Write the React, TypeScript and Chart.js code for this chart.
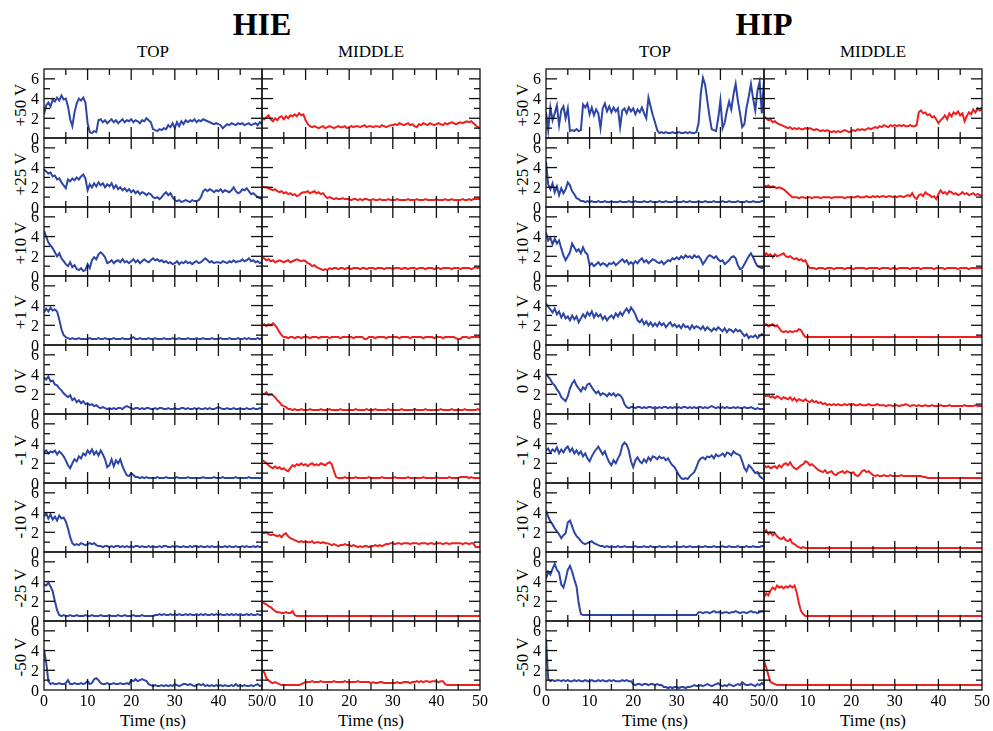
import React, { useEffect, useRef } from "react";
import { Chart, registerables } from "chart.js";
Chart.register(...registerables);

// ---------- categories / ticks ----------
const groups = ["HIE", "HIP"];
const columns = ["TOP", "MIDDLE"];
const voltages = ["+50 V", "+25 V", "+10 V", "+1 V", "0 V", "-1 V", "-10 V", "-25 V", "-50 V"];
const timeTicks = [0, 10, 20, 30, 40, 50];
const timeMinor = [5, 15, 25, 35, 45];
const yLabelTicks = [0, 2, 4, 6];
const yMajor = [2, 4, 6];
const yMinor = [1, 3, 5];
const T_MAX = 50;
const Y_MAX = 7;

// ---------- series (0..50 ns, every 0.5 ns) ----------
// HIE TOP
const hieTopP50 = [
2.4,3.3,3.6,3.2,3.9,3.7,4.1,3.8,4.3,3.9,
4.0,3.2,1.9,1.2,2.6,3.5,4.0,3.8,4.1,3.6,
1.5,0.6,0.5,0.7,0.6,1.8,1.9,1.6,1.8,1.5,
1.7,1.9,1.6,1.8,1.5,1.7,1.9,1.6,1.8,1.7,
1.9,1.6,1.8,1.7,1.5,1.8,1.7,2.0,1.8,1.6,
0.9,0.8,0.7,0.9,0.8,1.0,0.9,1.3,1.1,1.5,
1.0,1.6,1.2,1.7,1.4,1.8,1.6,1.8,1.7,1.9,
1.6,1.8,1.7,1.9,1.8,1.7,1.6,1.5,1.4,1.5,
1.4,1.3,1.0,1.2,1.4,1.3,1.5,1.4,1.3,1.5,
1.4,1.5,1.3,1.4,1.5,1.3,1.4,1.5,1.3,1.6,
1.4];
const hieTopP25 = [
3.8,3.6,3.4,3.5,3.1,3.2,2.8,2.9,2.5,2.2,
1.9,2.8,2.6,2.9,2.7,3.0,2.8,3.1,3.3,2.9,
1.7,2.3,2.0,2.4,2.1,2.5,2.2,2.4,2.0,2.3,
2.1,2.4,1.9,2.2,1.8,2.0,1.7,1.9,1.6,1.8,
1.5,1.7,1.4,1.6,1.3,1.5,1.4,1.2,1.4,1.3,
1.0,0.9,1.0,0.8,1.0,1.3,1.5,1.2,1.4,1.0,
0.7,0.6,0.7,0.5,0.6,0.7,0.6,0.5,0.7,0.6,
0.6,0.7,1.0,1.6,1.8,1.6,1.8,1.7,1.5,1.7,
1.6,1.8,1.5,1.7,1.6,1.5,1.7,2.0,1.6,1.4,
1.5,1.8,1.7,1.9,1.6,1.3,1.4,1.2,1.0,0.9,
0.8];
const hieTopP10 = [
4.6,4.0,3.4,3.1,2.8,2.4,2.0,2.3,1.8,1.5,
1.2,1.0,1.4,0.9,1.1,0.7,0.6,0.8,0.5,0.6,
1.2,0.8,1.6,1.9,1.7,2.2,2.4,2.2,1.9,1.3,
1.4,1.6,1.3,1.5,1.6,1.4,1.7,1.4,1.5,1.3,
1.5,1.7,1.4,1.6,1.3,1.5,1.7,1.5,1.4,1.6,
1.8,1.6,1.7,1.5,1.6,1.4,1.5,1.3,1.4,1.2,
1.3,1.5,1.2,1.4,1.3,1.5,1.3,1.4,1.2,1.4,
1.5,1.3,1.4,1.6,1.8,1.6,1.4,1.5,1.3,1.4,
1.4,1.3,1.5,1.4,1.3,1.5,1.4,1.6,1.4,1.5,
1.5,1.7,1.5,1.6,1.8,1.5,1.6,1.4,1.5,1.3,
1.4];
const hieTopP1 = [
3.3,3.7,3.4,3.8,3.5,3.6,3.4,2.6,1.6,1.0,
0.8,0.7,0.6,0.7,0.6,0.6,0.7,0.6,0.6,0.6,
0.6,0.7,0.6,0.6,0.6,0.7,0.6,0.6,0.7,0.6,
0.6,0.6,0.7,0.6,0.6,0.6,0.7,0.6,0.6,0.6,
0.7,0.8,0.6,0.6,0.7,0.6,0.6,0.6,0.7,0.6,
0.6,0.7,0.6,0.6,0.6,0.7,0.6,0.6,0.6,0.7,
0.6,0.6,0.7,0.6,0.6,0.6,0.7,0.6,0.6,0.6,
0.7,0.6,0.6,0.7,0.6,0.6,0.6,0.7,0.6,0.6,
0.6,0.7,0.6,0.6,0.6,0.7,0.6,0.6,0.6,0.7,
0.6,0.6,0.7,0.6,0.7,0.6,0.6,0.6,0.7,0.6,
0.7];
const hieTop0 = [
3.7,3.5,3.8,3.3,3.4,3.0,2.9,2.6,2.4,2.1,
1.9,1.7,1.9,1.4,1.6,1.2,1.4,1.1,1.3,1.0,
1.1,0.9,1.0,0.8,0.9,0.7,0.6,0.7,0.6,0.5,
0.6,0.5,0.6,0.5,0.6,0.6,0.5,0.7,0.8,0.7,
0.6,0.5,0.6,0.6,0.5,0.6,0.5,0.6,0.6,0.5,
0.5,0.6,0.5,0.6,0.6,0.5,0.5,0.6,0.5,0.5,
0.6,0.5,0.5,0.6,0.6,0.5,0.6,0.5,0.5,0.6,
0.5,0.6,0.5,0.5,0.6,0.5,0.6,0.5,0.5,0.6,
0.7,0.6,0.5,0.5,0.6,0.5,0.5,0.6,0.5,0.5,
0.6,0.5,0.5,0.6,0.5,0.5,0.6,0.5,0.5,0.6,
0.5];
const hieTopM1 = [
3.1,3.3,3.0,3.2,3.1,3.3,2.9,3.2,3.0,2.7,
2.3,1.8,1.5,2.0,2.4,2.2,2.7,2.5,3.0,2.8,
3.3,3.0,3.4,2.9,3.2,2.8,3.3,2.9,2.4,1.6,
1.8,2.4,1.7,2.3,2.0,2.4,1.7,1.2,0.8,0.7,
1.0,0.8,0.6,0.6,0.5,0.6,0.5,0.6,0.5,0.5,
0.5,0.5,0.6,0.5,0.5,0.5,0.6,0.5,0.5,0.5,
0.5,0.6,0.5,0.5,0.5,0.5,0.6,0.5,0.5,0.5,
0.5,0.5,0.5,0.6,0.5,0.5,0.5,0.5,0.6,0.5,
0.5,0.5,0.6,0.5,0.5,0.5,0.5,0.5,0.6,0.5,
0.5,0.5,0.5,0.5,0.6,0.5,0.5,0.5,0.5,0.5,
0.5];
const hieTopM10 = [
3.6,3.9,3.4,3.8,3.3,3.6,3.2,3.7,3.4,3.5,
3.1,2.4,1.5,0.9,0.7,0.8,0.7,0.9,0.8,0.7,
0.8,0.9,0.8,0.9,0.7,0.6,0.6,0.5,0.6,0.6,
0.5,0.6,0.5,0.6,0.6,0.5,0.6,0.5,0.6,0.5,
0.6,0.5,0.6,0.6,0.5,0.6,0.5,0.5,0.6,0.5,
0.6,0.5,0.5,0.6,0.5,0.6,0.6,0.5,0.5,0.6,
0.5,0.6,0.5,0.5,0.6,0.5,0.5,0.6,0.5,0.6,
0.6,0.5,0.6,0.5,0.5,0.6,0.5,0.6,0.5,0.5,
0.6,0.5,0.5,0.6,0.5,0.6,0.5,0.5,0.6,0.5,
0.5,0.6,0.5,0.6,0.5,0.5,0.6,0.5,0.6,0.5,
0.6];
const hieTopM25 = [
3.7,3.6,3.9,3.5,3.0,2.0,1.1,0.6,0.5,0.6,
0.5,0.5,0.6,0.5,0.5,0.6,0.5,0.5,0.5,0.6,
0.5,0.5,0.6,0.5,0.5,0.5,0.6,0.5,0.5,0.5,
0.6,0.5,0.5,0.5,0.6,0.5,0.5,0.6,0.5,0.5,
0.5,0.6,0.5,0.5,0.5,0.6,0.5,0.5,0.5,0.5,
0.5,0.6,0.6,0.7,0.6,0.7,0.6,0.6,0.7,0.6,
0.7,0.6,0.7,0.6,0.6,0.7,0.6,0.7,0.6,0.6,
0.7,0.6,0.7,0.6,0.7,0.6,0.6,0.7,0.6,0.7,
0.6,0.7,0.6,0.6,0.7,0.6,0.7,0.6,0.7,0.6,
0.7,0.6,0.6,0.7,0.6,0.7,0.6,0.6,0.7,0.6,
0.6];
const hieTopM50 = [
4.1,2.8,0.9,0.6,0.7,0.6,0.6,0.7,0.6,0.6,
0.7,1.0,0.6,0.6,0.7,0.6,0.6,0.7,0.6,0.7,
0.9,0.6,0.7,1.1,1.2,1.0,0.7,0.6,0.6,0.7,
0.6,0.6,0.7,0.6,0.6,0.7,0.6,0.6,0.7,0.6,
1.0,0.9,1.1,0.9,1.0,1.1,1.0,0.9,0.6,0.5,
0.4,0.5,0.4,0.4,0.5,0.4,0.5,0.4,0.5,0.4,
0.6,0.5,0.4,0.5,0.6,0.6,0.5,0.6,0.5,0.4,
0.5,0.6,0.5,0.6,0.4,0.5,0.4,0.5,0.4,0.5,
0.4,0.5,0.4,0.5,0.4,0.4,0.5,0.4,0.6,0.4,
0.5,0.4,0.5,0.4,0.4,0.5,0.4,0.5,0.6,0.4,
0.5];

// HIE MIDDLE
const hieMidP50 = [
2.0,1.9,2.1,2.3,1.9,1.7,2.0,1.8,2.1,2.2,
1.9,2.2,2.0,2.3,2.2,2.4,2.2,2.5,2.3,2.4,
1.8,1.4,1.2,1.1,1.2,1.1,1.0,1.1,1.2,1.0,
1.1,1.2,1.1,1.0,1.1,1.2,1.1,1.1,1.2,1.0,
1.1,1.2,1.1,1.2,1.2,1.1,1.2,1.3,1.1,1.2,
1.2,1.1,1.2,1.2,1.1,1.3,1.2,1.1,1.2,1.3,
1.3,1.4,1.3,1.5,1.4,1.3,1.4,1.5,1.3,1.4,
1.2,1.1,1.4,1.3,1.5,1.4,1.3,1.5,1.4,1.3,
1.4,1.5,1.4,1.3,1.5,1.4,1.5,1.6,1.5,1.4,
1.5,1.6,1.5,1.6,1.7,1.6,1.7,1.5,1.3,1.1,
1.0];
const hieMidP25 = [
2.1,2.0,2.0,1.9,1.8,1.7,1.8,1.6,1.5,1.6,
1.4,1.5,1.3,1.4,1.2,1.3,1.1,1.2,1.4,1.5,
1.5,1.6,1.4,1.5,1.6,1.4,1.5,1.3,1.4,1.1,
0.9,1.0,0.9,0.8,0.9,0.8,0.8,0.9,0.8,0.8,
0.8,0.7,0.8,0.8,0.7,0.8,0.7,0.8,0.8,0.7,
0.7,0.8,0.7,0.7,0.8,0.7,0.7,0.7,0.8,0.7,
0.7,0.7,0.8,0.7,0.7,0.7,0.7,0.8,0.7,0.7,
0.7,0.8,0.7,0.7,0.7,0.8,0.7,0.7,0.7,0.7,
0.8,0.7,0.7,0.7,0.8,0.7,0.7,0.8,0.7,0.7,
0.7,0.7,0.8,0.7,0.7,0.8,0.7,0.8,0.8,0.8,
0.8];
const hieMidP10 = [
1.9,1.8,1.6,1.7,1.5,1.6,1.4,1.5,1.6,1.5,
1.4,1.5,1.6,1.4,1.5,1.6,1.7,1.6,1.5,1.6,
1.5,1.3,1.2,1.0,1.1,0.9,0.8,0.7,0.6,0.7,
0.6,0.8,0.7,0.8,0.8,0.7,0.8,0.8,0.7,0.8,
0.8,0.7,0.8,0.8,0.8,0.7,0.8,0.8,0.7,0.8,
0.8,0.8,0.7,0.8,0.8,0.8,0.7,0.8,0.8,0.8,
0.7,0.8,0.8,0.8,0.7,0.8,0.8,0.7,0.8,0.8,
0.8,0.7,0.8,0.8,0.8,0.7,0.8,0.8,0.8,0.7,
0.8,0.8,0.7,0.8,0.8,0.8,0.8,0.7,0.8,0.8,
0.8,0.7,0.8,0.8,0.8,0.8,0.7,0.8,0.9,0.8,
0.9];
const hieMidP1 = [
2.0,2.1,1.9,2.1,2.0,2.2,2.0,1.7,1.3,1.0,
0.8,0.8,0.7,0.8,0.8,0.7,0.8,0.8,0.7,0.8,
0.8,0.8,0.7,0.8,0.8,0.8,0.7,0.8,0.8,0.8,
0.8,0.7,0.8,0.8,0.8,0.8,0.7,0.8,0.8,0.8,
0.8,0.8,0.7,0.8,0.8,0.8,0.8,0.6,0.6,0.8,
0.8,0.8,0.7,0.8,0.8,0.8,0.8,0.7,0.8,0.8,
0.8,0.8,0.8,0.7,0.8,0.8,0.8,0.8,0.7,0.8,
0.8,0.8,0.8,0.8,0.7,0.8,0.8,0.8,0.8,0.7,
0.8,0.8,0.8,0.7,0.8,0.8,0.8,0.8,0.8,0.7,
0.6,0.6,0.8,0.8,0.8,0.7,0.8,0.8,0.8,0.8,
0.8];
const hieMid0 = [
2.1,2.0,2.2,1.9,2.0,1.9,1.7,1.4,1.2,0.9,
0.8,0.7,0.5,0.5,0.4,0.5,0.4,0.4,0.5,0.4,
0.4,0.4,0.5,0.4,0.4,0.4,0.4,0.5,0.4,0.4,
0.4,0.5,0.4,0.4,0.4,0.4,0.5,0.4,0.4,0.4,
0.4,0.4,0.4,0.5,0.4,0.4,0.4,0.4,0.5,0.4,
0.4,0.4,0.5,0.4,0.4,0.4,0.4,0.4,0.5,0.4,
0.4,0.4,0.4,0.4,0.5,0.4,0.4,0.4,0.4,0.4,
0.5,0.4,0.4,0.4,0.4,0.5,0.4,0.4,0.4,0.4,
0.4,0.4,0.5,0.4,0.4,0.4,0.4,0.5,0.4,0.4,
0.4,0.4,0.4,0.5,0.4,0.4,0.4,0.4,0.4,0.5,
0.4];
const hieMidM1 = [
2.3,2.2,2.0,1.8,1.6,1.5,1.7,1.5,1.6,1.4,
1.5,1.3,1.2,1.5,1.8,1.7,1.9,1.8,2.0,1.8,
1.9,1.7,1.9,2.0,1.8,1.9,1.8,2.0,1.9,1.8,
2.0,2.1,1.9,1.2,0.6,0.5,0.5,0.5,0.6,0.5,
0.5,0.5,0.5,0.6,0.5,0.5,0.5,0.5,0.5,0.6,
0.5,0.5,0.5,0.5,0.5,0.6,0.5,0.5,0.5,0.5,
0.5,0.6,0.5,0.5,0.5,0.5,0.5,0.6,0.5,0.5,
0.5,0.5,0.5,0.5,0.6,0.5,0.5,0.5,0.5,0.5,
0.6,0.5,0.5,0.5,0.5,0.5,0.6,0.5,0.5,0.5,
0.5,0.6,0.6,0.6,0.6,0.5,0.6,0.5,0.5,0.5,
0.5];
const hieMidM10 = [
2.0,1.9,2.0,1.8,1.7,1.8,1.7,1.6,1.7,1.5,
1.8,1.9,1.6,1.4,1.3,1.2,1.1,1.0,1.1,1.0,
1.1,1.0,1.0,1.1,0.9,1.0,1.0,0.9,1.0,0.9,
0.9,0.8,0.7,0.8,0.7,0.6,0.7,0.7,0.8,0.7,
0.7,0.6,0.7,0.6,0.5,0.6,0.5,0.6,0.6,0.5,
0.6,0.6,0.7,0.6,0.7,0.6,0.7,0.8,0.8,0.9,
0.9,0.8,0.9,0.9,0.8,0.9,0.9,0.9,0.8,0.9,
0.9,0.9,0.8,0.9,0.9,0.9,0.8,0.9,0.9,0.8,
0.9,0.9,0.9,0.8,0.9,0.9,0.8,0.9,0.9,0.9,
0.9,0.9,0.8,0.9,0.9,0.8,0.9,0.9,0.5,0.5,
0.5];
const hieMidM25 = [
1.9,1.8,1.7,1.5,1.4,1.2,1.0,0.9,0.9,0.8,
0.8,0.9,0.8,0.8,1.0,0.6,0.5,0.5,0.5,0.5,
0.5,0.5,0.5,0.5,0.5,0.5,0.5,0.5,0.5,0.5,
0.5,0.5,0.5,0.5,0.5,0.5,0.5,0.5,0.5,0.5,
0.5,0.5,0.5,0.5,0.5,0.5,0.5,0.5,0.5,0.5,
0.5,0.5,0.5,0.5,0.5,0.5,0.5,0.5,0.5,0.5,
0.5,0.5,0.5,0.5,0.5,0.5,0.5,0.5,0.5,0.5,
0.5,0.5,0.5,0.5,0.5,0.5,0.5,0.5,0.5,0.5,
0.5,0.5,0.5,0.5,0.5,0.5,0.5,0.5,0.5,0.5,
0.5,0.5,0.5,0.5,0.5,0.5,0.5,0.5,0.5,0.5,
0.5];
const hieMidM50 = [
2.0,1.8,1.2,1.0,0.8,0.7,0.8,0.7,0.6,0.5,
0.5,0.5,0.5,0.5,0.5,0.5,0.5,0.5,0.6,0.7,
0.8,0.8,0.8,0.9,0.8,0.8,0.8,0.9,0.8,0.8,
0.8,0.8,0.8,0.9,0.8,0.8,0.8,0.8,0.9,0.8,
0.8,0.8,0.8,0.8,0.9,0.8,0.8,0.8,0.8,0.8,
0.7,0.8,0.7,0.7,0.8,0.8,0.7,0.7,0.7,0.7,
0.7,0.7,0.8,0.7,0.7,0.8,0.8,0.8,0.7,0.8,
0.8,0.9,0.8,0.9,0.8,0.9,0.9,0.8,0.9,0.9,
0.9,0.8,0.9,0.9,0.6,0.5,0.5,0.5,0.5,0.5,
0.5,0.5,0.5,0.5,0.5,0.5,0.5,0.5,0.5,0.5,
0.5];

// HIP TOP
const hipTopP50 = [
2.6,0.8,3.1,1.8,2.5,3.3,1.3,2.8,3.2,2.0,
3.0,0.7,0.8,0.7,0.9,0.7,0.8,3.4,3.1,3.5,
2.4,3.1,2.3,2.9,2.5,1.0,3.0,3.5,2.7,3.2,
2.6,3.1,2.7,3.0,1.1,2.8,3.0,2.5,3.1,2.7,
3.0,2.4,2.9,2.6,3.1,2.5,2.0,4.1,3.2,2.3,
1.6,0.8,0.5,0.6,0.5,0.6,0.5,0.5,0.6,0.5,
0.5,0.6,0.5,0.5,0.6,0.5,0.6,0.5,0.5,0.6,
1.5,4.5,6.1,5.4,3.8,2.2,0.9,0.8,0.7,2.0,
3.8,1.0,1.6,2.8,3.7,2.9,4.4,5.5,3.8,2.5,
1.1,1.4,3.1,4.2,5.5,4.0,2.8,4.8,5.7,2.5,
5.9];
const hipTopP25 = [
4.6,2.3,1.8,2.4,1.5,2.1,1.2,1.9,1.4,1.8,
2.5,2.2,1.6,1.3,0.9,0.8,0.6,0.6,0.5,0.6,
0.5,0.6,0.5,0.5,0.6,0.5,0.5,0.6,0.5,0.5,
0.6,0.5,0.5,0.5,0.6,0.5,0.5,0.5,0.6,0.5,
0.5,0.6,0.5,0.5,0.5,0.6,0.5,0.5,0.6,0.5,
0.5,0.5,0.6,0.5,0.5,0.6,0.5,0.5,0.5,0.6,
0.5,0.5,0.5,0.6,0.5,0.5,0.6,0.5,0.5,0.5,
0.6,0.5,0.5,0.6,0.5,0.5,0.5,0.6,0.5,0.5,
0.5,0.6,0.5,0.5,0.6,0.5,0.5,0.5,0.6,0.5,
0.5,0.5,0.6,0.5,0.5,0.6,0.5,0.5,0.5,0.6,
0.6];
const hipTopP10 = [
4.4,3.6,3.9,3.2,3.8,3.3,3.6,2.8,2.1,1.6,
2.0,2.4,3.3,2.9,2.5,2.7,2.3,2.9,2.4,2.2,
1.1,1.3,1.0,1.2,1.4,1.1,1.3,1.2,1.0,1.3,
1.2,1.4,1.1,1.3,1.5,1.7,1.4,1.6,1.2,1.4,
1.2,1.5,1.3,1.6,1.8,1.4,1.6,1.3,1.5,1.7,
1.6,1.4,1.3,1.5,1.2,1.4,1.6,1.5,1.8,1.7,
1.9,1.7,2.0,1.8,2.1,1.9,2.0,1.8,2.1,1.9,
2.0,1.7,1.2,1.5,1.9,2.1,2.0,1.8,2.0,1.7,
1.5,1.6,1.2,1.4,1.6,1.9,2.0,1.8,1.1,0.7,
0.8,1.2,1.6,2.0,2.3,1.9,1.4,1.0,0.9,0.8,
0.9];
const hipTopP1 = [
4.2,3.9,3.6,3.3,3.7,3.1,3.4,2.8,3.2,2.7,
2.9,2.5,3.0,2.6,2.9,2.3,2.7,3.1,2.8,3.3,
3.0,3.4,2.8,3.2,2.9,3.1,2.6,2.9,2.5,2.8,
3.0,2.7,3.2,2.9,3.3,3.0,3.4,3.7,3.3,3.8,
3.5,3.1,2.5,2.3,2.6,2.1,2.4,2.0,2.3,1.9,
2.2,1.9,2.3,2.0,2.2,1.8,2.1,2.3,1.9,2.1,
1.8,2.0,1.7,2.1,1.8,1.9,1.6,2.0,1.7,1.9,
1.8,1.6,1.9,1.5,1.8,1.6,1.4,1.7,1.5,1.8,
1.6,1.4,1.7,1.3,1.6,1.5,1.3,1.6,1.4,1.5,
1.2,0.9,1.1,0.7,0.9,0.8,1.0,0.7,0.9,1.1,
0.9];
const hipTop0 = [
4.1,3.8,3.5,3.1,2.9,2.5,2.2,1.7,1.5,1.3,
1.8,2.6,3.1,3.4,2.9,2.6,2.3,2.7,2.5,3.0,
3.1,2.7,2.4,2.1,2.3,1.9,2.1,2.0,1.8,2.1,
1.9,2.1,1.8,2.0,1.9,1.6,1.0,0.7,0.6,0.7,
0.7,0.6,0.7,0.7,0.6,0.7,0.6,0.7,0.7,0.6,
0.7,0.6,0.7,0.6,0.7,0.7,0.6,0.7,0.6,0.7,
0.6,0.7,0.6,0.7,0.7,0.6,0.7,0.6,0.7,0.6,
0.7,0.7,0.6,0.7,0.6,0.7,0.8,0.7,0.6,0.7,
0.6,0.7,0.6,0.7,0.6,0.6,0.7,0.6,0.7,0.6,
0.6,0.7,0.6,0.6,0.7,0.6,0.5,0.6,0.5,0.5,
0.5];
const hipTopM1 = [
3.3,3.5,3.1,3.4,3.2,3.6,3.0,3.4,3.1,3.5,
3.7,3.2,3.5,3.0,3.3,2.9,3.2,2.7,3.0,2.5,
2.2,2.7,3.1,3.4,3.7,3.3,2.9,3.2,2.6,2.1,
1.8,2.3,2.0,2.5,2.9,3.8,4.1,3.9,3.3,2.2,
1.6,2.3,2.6,2.2,2.0,2.4,2.1,2.6,2.3,2.7,
2.6,2.4,2.7,2.5,2.6,2.3,2.5,2.1,1.8,1.6,
1.2,0.8,0.5,0.4,0.5,0.4,0.7,0.9,1.1,1.6,
2.2,2.5,2.6,2.4,2.7,2.6,2.8,2.5,2.9,2.7,
2.8,3.0,2.7,3.1,3.0,2.8,3.2,3.0,2.9,2.8,
2.2,1.5,1.2,1.8,1.6,1.3,1.0,1.1,0.7,0.5,
0.4];
const hipTopM10 = [
4.2,3.6,3.1,2.8,2.4,2.1,1.8,1.4,1.7,1.9,
3.0,3.2,2.6,2.0,1.6,1.4,1.1,0.9,0.8,0.9,
1.0,1.1,0.9,0.8,0.7,0.6,0.6,0.5,0.6,0.5,
0.6,0.5,0.5,0.6,0.5,0.5,0.6,0.5,0.5,0.5,
0.5,0.6,0.5,0.5,0.5,0.6,0.5,0.5,0.6,0.5,
0.5,0.5,0.6,0.5,0.5,0.5,0.6,0.5,0.5,0.6,
0.5,0.5,0.5,0.6,0.5,0.5,0.6,0.5,0.5,0.5,
0.6,0.5,0.5,0.6,0.5,0.5,0.5,0.6,0.5,0.5,
0.5,0.6,0.5,0.5,0.6,0.5,0.5,0.5,0.6,0.5,
0.5,0.5,0.6,0.5,0.5,0.6,0.5,0.5,0.5,0.6,
0.6];
const hipTopM25 = [
4.3,5.0,4.7,5.3,5.8,5.2,4.9,3.7,3.4,4.2,
5.2,5.6,5.0,4.2,3.5,1.8,0.7,0.6,0.6,0.6,
0.6,0.6,0.6,0.6,0.6,0.6,0.6,0.6,0.6,0.6,
0.6,0.6,0.6,0.6,0.6,0.6,0.6,0.6,0.6,0.6,
0.6,0.6,0.6,0.6,0.6,0.6,0.6,0.6,0.6,0.6,
0.6,0.6,0.6,0.6,0.6,0.6,0.6,0.6,0.6,0.6,
0.6,0.6,0.6,0.6,0.6,0.6,0.6,0.6,0.6,0.6,
0.9,0.9,0.8,0.9,0.9,0.8,0.9,1.0,0.9,0.9,
0.9,0.8,0.9,0.9,0.8,0.9,0.9,1.0,0.9,0.8,
0.9,0.9,0.8,0.9,1.0,0.9,0.9,0.8,0.9,1.0,
0.9];
const hipTopM50 = [
5.2,1.1,0.9,1.0,0.9,1.0,1.0,0.9,1.0,0.9,
1.0,0.9,0.9,1.0,0.9,1.0,0.9,0.9,1.0,0.9,
0.9,1.0,0.9,0.9,1.0,0.9,1.0,0.9,0.9,1.0,
0.9,1.0,0.9,0.9,0.9,1.0,0.9,1.0,0.9,0.9,
0.6,0.5,0.6,0.6,0.5,0.6,0.6,0.5,0.6,0.6,
0.5,0.6,0.5,0.5,0.3,0.3,0.2,0.3,0.2,0.3,
0.3,0.2,0.3,0.3,0.2,0.3,0.3,0.4,0.5,0.4,
0.4,0.5,0.4,0.5,0.6,0.5,0.4,0.5,0.6,0.7,
0.5,0.4,0.5,0.4,0.6,0.5,0.4,0.5,0.6,0.5,
0.8,0.6,0.5,0.5,0.6,0.5,0.4,0.6,0.5,0.7,
0.5];

// HIP MIDDLE
const hipMidP50 = [
2.2,2.0,1.8,1.9,1.6,1.7,1.5,1.4,1.3,1.2,
1.1,1.0,1.1,0.9,1.0,0.9,1.0,0.9,0.9,1.0,
0.9,1.0,0.9,0.8,0.9,0.8,0.7,0.8,0.7,0.8,
0.7,0.6,0.7,0.6,0.7,0.6,0.7,0.8,0.7,0.6,
0.7,0.8,0.7,0.9,0.8,0.9,0.8,0.9,1.0,0.9,
1.0,1.1,1.0,1.2,1.1,1.3,1.2,1.1,1.3,1.2,
1.3,1.2,1.3,1.2,1.3,1.2,1.2,1.3,1.2,1.2,
1.3,2.6,2.8,2.5,2.6,2.3,2.4,2.1,2.2,1.9,
1.5,1.8,2.0,2.3,1.9,2.5,2.2,2.6,2.4,2.7,
2.3,2.5,1.7,2.2,2.6,2.4,2.9,2.6,3.0,2.8,
3.1];
const hipMidP25 = [
2.2,2.1,2.2,2.0,2.1,2.0,1.9,2.0,1.9,1.8,
1.6,1.4,1.2,1.0,1.0,1.0,0.9,1.0,1.0,0.9,
1.0,1.0,0.9,1.0,1.0,1.0,0.9,1.0,1.0,1.0,
1.0,0.9,1.0,1.0,1.0,1.0,1.0,0.9,1.0,1.0,
1.0,1.0,1.0,1.1,1.0,1.0,1.0,1.1,1.0,1.0,
1.1,1.0,1.1,1.0,1.1,1.1,1.0,1.1,1.1,1.0,
1.1,1.0,1.1,1.1,1.0,1.1,1.2,1.1,1.4,1.0,
0.8,1.2,1.3,1.1,1.5,1.3,1.2,1.0,1.1,0.8,
1.3,1.7,1.4,1.5,1.3,1.6,1.5,1.3,1.4,1.2,
1.3,1.5,1.3,1.4,1.2,1.3,1.4,1.2,1.3,1.2,
1.2];
const hipMidP10 = [
2.0,2.3,2.1,2.2,1.9,2.2,2.0,2.1,2.2,2.3,
2.0,1.9,2.0,1.8,1.7,1.8,1.6,1.7,1.5,1.6,
1.1,0.8,0.8,0.8,0.7,0.8,0.8,0.8,0.7,0.8,
0.8,0.8,0.7,0.8,0.8,0.8,0.8,0.7,0.8,0.8,
0.8,0.7,0.8,0.8,0.8,0.8,0.8,0.7,0.8,0.8,
0.8,0.8,0.8,0.7,0.8,0.8,0.8,0.8,0.7,0.8,
0.8,0.7,0.8,0.8,0.8,0.8,0.8,0.7,0.8,0.8,
0.8,0.8,0.7,0.8,0.8,0.8,0.8,0.8,0.7,0.8,
0.8,0.8,0.8,0.7,0.8,0.8,0.8,0.8,0.8,0.7,
0.8,0.8,0.8,0.8,0.7,0.8,0.8,0.8,0.8,0.8,
0.8];
const hipMidP1 = [
2.0,2.1,1.9,2.0,2.1,1.9,2.0,1.7,1.4,1.3,
1.4,1.3,1.4,1.3,1.4,1.4,1.6,1.5,1.1,0.8,
0.8,0.8,0.8,0.8,0.8,0.8,0.8,0.8,0.8,0.8,
0.8,0.8,0.8,0.8,0.8,0.8,0.8,0.8,0.8,0.8,
0.8,0.8,0.8,0.8,0.8,0.8,0.8,0.8,0.8,0.8,
0.8,0.8,0.8,0.8,0.8,0.8,0.8,0.8,0.8,0.8,
0.8,0.8,0.8,0.8,0.8,0.8,0.8,0.8,0.8,0.8,
0.8,0.8,0.8,0.8,0.8,0.8,0.8,0.8,0.8,0.8,
0.8,0.8,0.8,0.8,0.8,0.8,0.8,0.8,0.8,0.8,
0.8,0.8,0.8,0.8,0.8,0.8,0.8,0.8,0.8,0.8,
0.8];
const hipMid0 = [
1.9,1.8,1.9,1.7,1.8,1.6,1.8,1.7,1.5,1.7,
1.6,1.5,1.7,1.4,1.6,1.3,1.5,1.4,1.3,1.5,
1.3,1.2,1.4,1.2,1.3,1.1,1.2,1.0,1.1,0.9,
1.0,0.9,1.0,0.9,1.0,0.9,0.9,1.0,0.9,1.0,
0.9,1.0,0.9,0.9,1.0,0.9,0.9,0.9,1.0,0.9,
0.9,0.9,1.0,0.9,0.9,0.9,0.8,0.9,0.9,0.8,
0.9,0.9,0.8,0.9,0.9,1.0,0.9,0.8,0.9,0.9,
0.8,0.9,0.8,0.8,0.9,0.8,0.8,0.9,0.8,0.8,
0.8,0.9,0.8,0.8,0.8,0.9,0.8,0.8,0.8,0.8,
0.8,0.8,0.9,0.8,0.8,0.8,0.8,0.9,0.8,0.8,
0.8];
const hipMidM1 = [
1.8,1.6,1.7,1.5,1.6,1.7,1.5,1.8,1.6,1.9,
2.0,1.8,2.1,1.7,1.5,1.4,1.6,1.8,1.9,2.2,
2.1,1.8,1.9,1.7,1.5,1.3,1.2,1.1,1.3,1.0,
1.1,1.2,0.9,0.8,1.0,1.1,1.2,1.0,1.2,1.1,
1.0,1.1,0.8,0.7,0.9,1.2,1.3,1.1,1.2,1.0,
0.8,0.7,0.8,0.7,0.7,0.8,0.7,0.7,0.8,0.7,
0.7,0.7,0.7,0.8,0.7,0.7,0.7,0.7,0.7,0.7,
0.7,0.7,0.7,0.6,0.6,0.5,0.5,0.5,0.5,0.5,
0.5,0.5,0.5,0.5,0.5,0.5,0.5,0.5,0.5,0.5,
0.5,0.5,0.5,0.5,0.5,0.5,0.5,0.5,0.5,0.5,
0.5];
const hipMidM10 = [
1.9,2.2,1.8,2.0,1.7,1.9,1.6,1.4,1.3,1.5,
1.2,1.1,1.3,0.9,0.8,0.6,0.5,0.4,0.5,0.4,
0.4,0.4,0.4,0.4,0.4,0.4,0.4,0.4,0.4,0.4,
0.4,0.4,0.4,0.4,0.4,0.4,0.4,0.4,0.4,0.4,
0.4,0.4,0.4,0.4,0.4,0.4,0.4,0.4,0.4,0.4,
0.4,0.4,0.4,0.4,0.4,0.4,0.4,0.4,0.4,0.4,
0.4,0.4,0.4,0.4,0.4,0.4,0.4,0.4,0.4,0.4,
0.4,0.4,0.4,0.4,0.4,0.4,0.4,0.4,0.4,0.4,
0.4,0.4,0.4,0.4,0.4,0.4,0.4,0.4,0.4,0.4,
0.4,0.4,0.4,0.4,0.4,0.4,0.4,0.4,0.4,0.4,
0.4];
const hipMidM25 = [
2.4,2.8,2.6,3.1,3.4,3.2,3.6,3.4,3.5,3.3,
3.5,3.4,3.6,3.4,3.6,2.9,1.8,1.0,0.7,0.5,
0.5,0.5,0.5,0.5,0.5,0.5,0.5,0.5,0.5,0.5,
0.5,0.5,0.5,0.5,0.5,0.5,0.5,0.5,0.5,0.5,
0.5,0.5,0.5,0.5,0.5,0.5,0.5,0.5,0.5,0.5,
0.5,0.5,0.5,0.5,0.5,0.5,0.5,0.5,0.5,0.5,
0.5,0.5,0.5,0.5,0.5,0.5,0.5,0.5,0.5,0.5,
0.5,0.5,0.5,0.5,0.5,0.5,0.5,0.5,0.5,0.5,
0.5,0.5,0.5,0.5,0.5,0.5,0.5,0.5,0.5,0.5,
0.5,0.5,0.5,0.5,0.5,0.5,0.5,0.5,0.5,0.5,
0.5];
const hipMidM50 = [
2.9,2.3,1.5,0.8,0.7,0.6,0.5,0.5,0.5,0.5,
0.5,0.5,0.5,0.5,0.5,0.5,0.5,0.5,0.5,0.5,
0.5,0.5,0.5,0.5,0.5,0.5,0.5,0.5,0.5,0.5,
0.5,0.5,0.5,0.5,0.5,0.5,0.5,0.5,0.5,0.5,
0.5,0.5,0.5,0.5,0.5,0.5,0.5,0.5,0.5,0.5,
0.5,0.5,0.5,0.5,0.5,0.5,0.5,0.5,0.5,0.5,
0.5,0.5,0.5,0.5,0.5,0.5,0.5,0.5,0.5,0.5,
0.5,0.5,0.5,0.5,0.5,0.5,0.5,0.5,0.5,0.5,
0.5,0.5,0.5,0.5,0.5,0.5,0.5,0.5,0.5,0.5,
0.5,0.5,0.5,0.5,0.5,0.5,0.5,0.5,0.5,0.5,
0.5];

const hieTopSeries = [hieTopP50, hieTopP25, hieTopP10, hieTopP1, hieTop0, hieTopM1, hieTopM10, hieTopM25, hieTopM50];
const hieMidSeries = [hieMidP50, hieMidP25, hieMidP10, hieMidP1, hieMid0, hieMidM1, hieMidM10, hieMidM25, hieMidM50];
const hipTopSeries = [hipTopP50, hipTopP25, hipTopP10, hipTopP1, hipTop0, hipTopM1, hipTopM10, hipTopM25, hipTopM50];
const hipMidSeries = [hipMidP50, hipMidP25, hipMidP10, hipMidP1, hipMid0, hipMidM1, hipMidM10, hipMidM25, hipMidM50];

// ---------- layout ----------
const FONT = "'Liberation Serif', 'DejaVu Serif', serif";
const BLUE = "#2d46a6";
const RED = "#f01e1e";
const M = 34;
const ROW_TOP = 69;
const ROW_H = 69;
const PANEL_W = 218;
const COLS = [
  { left: 44, series: hieTopSeries, color: BLUE, isTop: true },
  { left: 262, series: hieMidSeries, color: RED, isTop: false },
  { left: 546, series: hipTopSeries, color: BLUE, isTop: true },
  { left: 764, series: hipMidSeries, color: RED, isTop: false },
];

const panelPlugin = {
  id: "panel",
  afterDatasetsDraw(chart: any, _args: any, opts: any) {
    const { ctx, chartArea: a } = chart;
    const xs = chart.scales.x;
    const ys = chart.scales.y;
    ctx.save();
    ctx.strokeStyle = "#111";
    ctx.lineWidth = 1.3;
    ctx.strokeRect(a.left, a.top, a.right - a.left, a.bottom - a.top);
    const line = (x1: number, y1: number, x2: number, y2: number) => {
      ctx.beginPath();
      ctx.moveTo(x1, y1);
      ctx.lineTo(x2, y2);
      ctx.stroke();
    };
    const drawX = (v: number, len: number) => {
      const px = xs.getPixelForValue(v);
      line(px, a.top, px, a.top + len);
      line(px, a.bottom, px, a.bottom - len);
    };
    const drawY = (v: number, len: number) => {
      const py = ys.getPixelForValue(v);
      line(a.left, py, a.left + len, py);
      line(a.right, py, a.right - len, py);
    };
    timeTicks.filter((v) => v > 0 && v < T_MAX).forEach((v) => drawX(v, 11));
    timeMinor.forEach((v) => drawX(v, 6));
    yMajor.forEach((v) => drawY(v, 11));
    yMinor.forEach((v) => drawY(v, 6));

    ctx.fillStyle = "#000";
    ctx.font = `16px ${FONT}`;
    ctx.textBaseline = "alphabetic";
    if (opts.yLabels) {
      ctx.textAlign = "right";
      yLabelTicks.forEach((v) => {
        ctx.fillText(String(v), a.left - 5, ys.getPixelForValue(v) + 5.5);
      });
    }
    if (opts.xLabels) {
      ctx.textAlign = "center";
      timeTicks.forEach((v) => {
        let t = String(v);
        if (opts.xLabels === "top" && v === T_MAX) t = `${T_MAX}/0`;
        if (opts.xLabels === "mid" && v === 0) return;
        ctx.fillText(t, xs.getPixelForValue(v), a.bottom + 16);
      });
    }
    ctx.restore();
  },
};

function Panel(props: { values: number[]; color: string; left: number; top: number; yLabels: boolean; xLabels: string | null }) {
  const ref = useRef<HTMLCanvasElement>(null);
  const { values, color, left, top, yLabels, xLabels } = props;
  const W = PANEL_W + 2 * M;
  const H = ROW_H + 2 * M;
  useEffect(() => {
    const canvas = ref.current!;
    const chart = new Chart(canvas, {
      type: "line",
      data: {
        datasets: [
          {
            data: values.map((v, i) => ({ x: (i * T_MAX) / (values.length - 1), y: v })),
            borderColor: color,
            borderWidth: 2,
            pointRadius: 0,
            tension: 0,
            fill: false,
          },
        ],
      },
      options: {
        animation: false,
        responsive: false,
        maintainAspectRatio: false,
        devicePixelRatio: 1,
        events: [],
        layout: { padding: M },
        plugins: {
          legend: { display: false },
          tooltip: { enabled: false },
          // @ts-ignore
          panel: { yLabels, xLabels },
        },
        scales: {
          x: { type: "linear", min: 0, max: T_MAX, display: false },
          y: { type: "linear", min: 0, max: Y_MAX, display: false },
        },
      },
      plugins: [panelPlugin as any],
    } as any);
    let alive = true;
    if ((document as any).fonts && (document as any).fonts.ready) {
      (document as any).fonts.ready.then(() => {
        if (alive) chart.draw();
      });
    }
    return () => {
      alive = false;
      chart.destroy();
    };
  }, []);
  return (
    <canvas
      ref={ref}
      width={W}
      height={H}
      style={{ position: "absolute", left: left - M, top: top - M, width: W, height: H }}
    />
  );
}

function Label(props: { x: number; y: number; text: string; size: number; bold?: boolean; rotate?: boolean }) {
  const { x, y, text, size, bold, rotate } = props;
  return (
    <div
      style={{
        position: "absolute",
        left: x,
        top: y,
        transform: `translate(-50%, -50%)${rotate ? " rotate(-90deg)" : ""}`,
        fontFamily: FONT,
        fontSize: size,
        fontWeight: bold ? "bold" : "normal",
        whiteSpace: "nowrap",
        lineHeight: 1,
        color: "#000",
      }}
    >
      {text}
    </div>
  );
}

export default function App() {
  const bottom = ROW_TOP + ROW_H * voltages.length;
  return (
    <div style={{ position: "absolute", left: 0, top: 0, width: 993, height: 731, background: "#fff", overflow: "hidden" }}>
      {groups.map((g, gi) => {
        const topCol = COLS[gi * 2];
        const midCol = COLS[gi * 2 + 1];
        return (
          <React.Fragment key={g}>
            <Label x={topCol.left + PANEL_W} y={24} text={g} size={32} bold />
            {columns.map((c, ci) => (
              <Label key={c} x={COLS[gi * 2 + ci].left + PANEL_W / 2} y={51} text={c} size={17} />
            ))}
            {voltages.map((v, r) => (
              <Label key={v} x={topCol.left - 24} y={ROW_TOP + ROW_H * r + ROW_H / 2 + 1} text={v} size={17} rotate />
            ))}
            {[topCol, midCol].map((col, ci) => (
              <Label key={"t" + ci} x={col.left + PANEL_W / 2} y={bottom + 30} text="Time (ns)" size={17} />
            ))}
          </React.Fragment>
        );
      })}
      {COLS.map((col, ci) =>
        col.series.map((vals, r) => (
          <Panel
            key={ci + "-" + r}
            values={vals}
            color={col.color}
            left={col.left}
            top={ROW_TOP + ROW_H * r}
            yLabels={col.isTop}
            xLabels={r === voltages.length - 1 ? (col.isTop ? "top" : "mid") : null}
          />
        ))
      )}
    </div>
  );
}
